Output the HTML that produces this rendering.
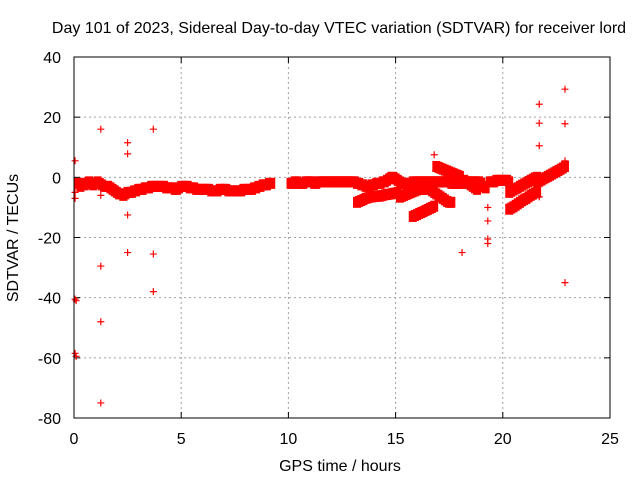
<!DOCTYPE html>
<html><head><meta charset="utf-8"><style>
body{margin:0;background:#fff}
svg text{font-family:"Liberation Sans",sans-serif;font-size:16px;fill:#000}
</style></head><body>
<svg id="chart" width="640" height="480" xmlns="http://www.w3.org/2000/svg">
<rect width="640" height="480" fill="#fff"/>
<text x="339" y="33" text-anchor="middle">Day 101 of 2023, Sidereal Day-to-day VTEC variation (SDTVAR) for receiver lord</text>
<text x="340" y="471" text-anchor="middle">GPS time / hours</text>
<text transform="translate(18,238) rotate(-90)" text-anchor="middle">SDTVAR / TECUs</text>
<g id="grid"></g>
<g id="ticks"></g>
<g id="points"></g>
<rect x="74" y="57" width="536" height="361" fill="none" stroke="#000" stroke-width="1"/>
</svg>
<script>
const xTicks=[0,5,10,15,20,25];
const yTicks=[40,20,0,-20,-40,-60,-80];
// tracks: start hour, values every 0.1 h (null = gap)
const track1Start=0.2;
const track1=[-2,-3,-2,-2.5,-2,-1.5,-2,-2.5,-2,-1.5,-2,-2.5,-3,-3,
-3,-3.5,-4,-4.5,-5,-5.5,-5.5,-6,-5.5,-5,
-5,-5,-4.5,-4.5,-4,-4,-4,-3.5,-3.5,-3.5,-3,-3,-3,-3,-3,
-3,-3,-3.5,-3.5,-3.5,-3.5,-4,-4,-3.5,-3,
-3,-3,-3,-3.5,-3.5,-3.5,-4,-4,-4,-4,
-4,-4,-4,-4.5,-4.5,-4.5,-4.5,-4,-4,-4,
-4,-4.5,-4.5,-4.5,-4.5,-4.5,-4.5,-4.5,-4,-4,
-4,-4,-4,-3.5,-3.5,-3,-3,-2.5,-2.5,-2.5,-2,-2,
null,null,null,null,null,null,null,null,
-2,-2,-1.5,-1.5,-2,-2,-2,-1.5,-1.5,-1.5,-1.5,-2,-2,-1.5,-1.5,-1.5,-1.5,-1.5,-1.5,-1.5,-1.5,-1.5,-1.5,-1.5,-1.5,-1.5,-1.5,-1.5,-1.5,-1.5,-1.5,
-2,-2,-2.5,-2.5,-3,-3,-3,-2.5,-2.5,-2,-2,-2,-1.5,-1.5,-1,-0.5,0,0,-0.5,-1,-1.5,-2,-2,-2,-2,-2,-1.5,-1.5,-1.5,-1.5,-1.5,-1.5,-1.5,-1.5,-1.5,-1.5,-1.5,-1.5,-1.5,-1.5,
-1.5,-1.5,-1.5,-1.5,-2,-2,-2,-2,-2,-2,-1.5,-1.5,-1.5,-1.5,-1.5,-1.5,-1.5,-1.5,-2,-3,-3.5,
null,-1.5,-1.5,-1.5,-1,-1,-1,-1,-1,-1,-1.5];
const track2Start=13.2;
const track2=[-8.3,-8,-7.7,-7.4,-7,-6.8,-6.6,-6.5,-6.4,-6.3,-6.3,-6.2,-6,-5.8,-5.7,-5.6,-5.5,-5.3,-5.2,-5,
-6.6,-6.3,-6,-5.7,-5.4,-5.1,-4.8,-4.5,-4.2,-4,-4,-4,
-3,-3.5,-4,-4.5,-5,-5.5,-6,-6.5,-7,-7.5,-8,-8.3,-8.3];
const track3Start=15.8;
const track3=[-13,-12.7,-12.4,-12,-11.7,-11.4,-11,-10.7,-10.3,-10,-9.6];
const track4Start=16.9;
const track4=[3.6,3.3,3,2.7,2.4,2.1,1.8,1.5,1.2,0.9,0.6,0.3];
const track5Start=18.2;
const track5=[-1,-1.5,-2,-2.5,-3,-3.5,-4];
const track6Start=20.3;
const track6=[-5,-4.6,-4.2,-3.8,-3.5,-3,-2.6,-2.2,-1.8,-1.4,-1,-0.6,-0.2,0];
const track7Start=20.3;
const track7=[-10.6,-10.2,-9.8,-9.3,-8.8,-8.3,-7.8,-7.4,-7,-6.5,-6,-5.6,-5.2,-5];
const track8Start=21.6;
const track8=[-1.7,-1.3,-0.9,-0.5,-0.1,0.3,0.7,1.1,1.5,1.9,2.3,2.7,3.1,3.6];
const outlierHours=[0.05,0.05,0.05,0.05,0.1,0.05,0.1,1.25,1.25,1.25,1.25,1.25,2.5,2.5,2.5,2.5,3.7,3.7,3.7,16.8,18.1,19.3,19.3,19.3,19.3,21.7,21.7,21.7,21.7,22.9,22.9,22.9,22.9];
const outlierValues=[5.5,-5,-7,-40.5,-41,-58.5,-59.5,16,-6,-29.5,-48,-75,11.5,7.8,-12.5,-25,16,-25.5,-38,7.5,-25,-10,-14.5,-20.5,-22,24.3,18,10.5,-6.5,29.3,17.8,5.5,-35];

const X0=74,X1=610,Y0=418,Y1=57;
const xs=h=>X0+(h-0)/25*(X1-X0);
const ys=v=>Y0-(v+80)/120*(Y0-Y1);
const NS="http://www.w3.org/2000/svg";
const grid=document.getElementById('grid'),ticks=document.getElementById('ticks'),pts=document.getElementById('points');
function mk(tag,attrs,parent){const e=document.createElementNS(NS,tag);for(const k in attrs)e.setAttribute(k,attrs[k]);parent.appendChild(e);return e;}
xTicks.forEach(t=>{const x=xs(t);
 if(t>0&&t<25){const g=mk('line',{x1:x,x2:x,y1:Y1,y2:Y0,stroke:'#a0a0a0','stroke-dasharray':'2,3'},grid);
 
 }
 mk('line',{x1:x,x2:x,y1:Y0,y2:Y0-6,stroke:'#000'},ticks);
 mk('line',{x1:x,x2:x,y1:Y1,y2:Y1+6,stroke:'#000'},ticks);
 const l=mk('text',{x:x,y:444,'text-anchor':'middle'},ticks);l.textContent=t;
 
 
});
yTicks.forEach(t=>{const y=ys(t);
 if(t>-80&&t<40){const g=mk('line',{x1:X0,x2:X1,y1:y,y2:y,stroke:'#a0a0a0','stroke-dasharray':'2,3'},grid);
 
 }
 mk('line',{x1:X0,x2:X0+6,y1:y,y2:y,stroke:'#000'},ticks);
 mk('line',{x1:X1,x2:X1-6,y1:y,y2:y,stroke:'#000'},ticks);
 const l=mk('text',{x:61,y:y+6,'text-anchor':'end'},ticks);l.textContent=t;
 
 
});
function plus(h,v,thick){const x=xs(h),y=ys(v);
 const p=mk('path',{d:`M${x-3.5},${y}h7M${x},${y-3.5}v7`,stroke:'#ff0000','stroke-width':1.2,fill:'none'},pts);
 
 
 if(thick){const r=mk('rect',{x:x-4,y:y-5.5,width:8,height:11,fill:'#ff0000'},pts);
 
 }
}
[[track1Start,track1],[track2Start,track2],[track3Start,track3],[track4Start,track4],[track5Start,track5],[track6Start,track6],[track7Start,track7],[track8Start,track8]].forEach(([s,vals])=>{
 vals.forEach((v,i)=>{if(v!==null)plus(s+i*0.1,v,true);});
});
outlierHours.forEach((h,i)=>plus(h,outlierValues[i],false));
</script>
</body></html>
